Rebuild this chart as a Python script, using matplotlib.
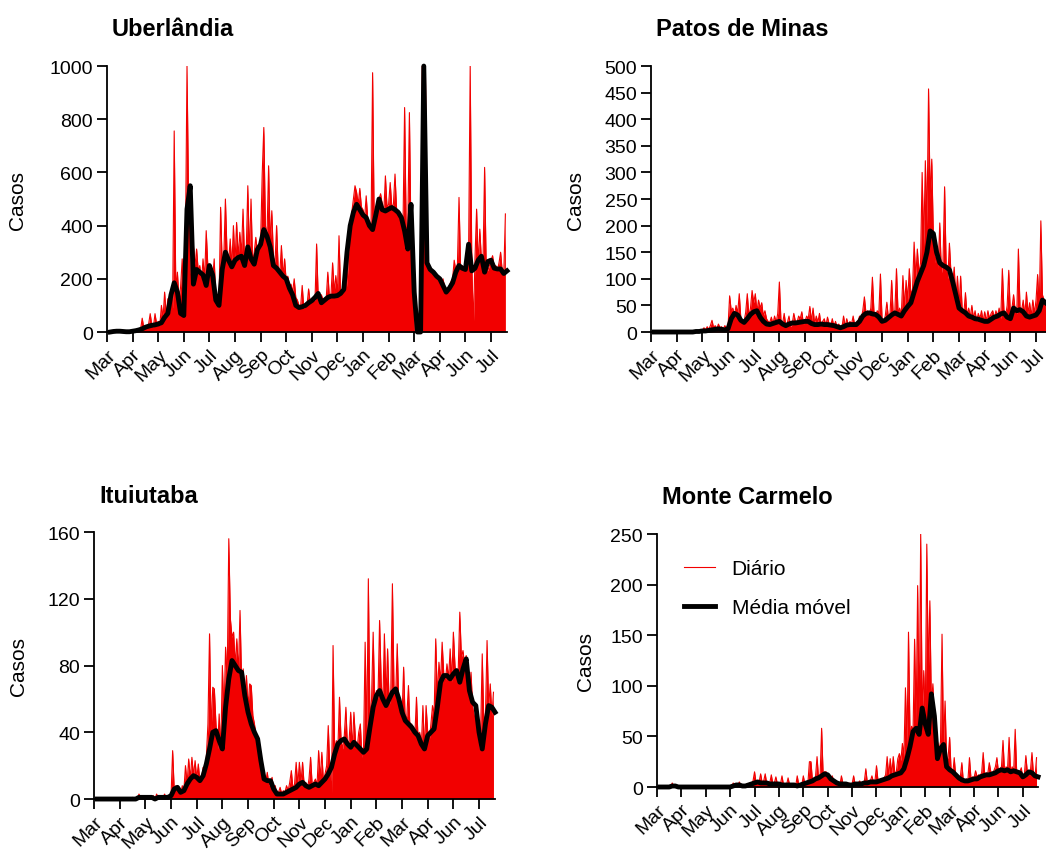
import numpy as np
import matplotlib
matplotlib.use("Agg")
import matplotlib.pyplot as plt

plt.rcParams['font.family'] = ['Liberation Sans', 'DejaVu Sans']

# days since 1 Mar 2020 (daily series read every 2 days, moving average every 4 days)
days_d = np.arange(0, 500, 2)
days_m = np.arange(0, 501, 4)
nan = np.nan

month_ticks = np.arange(0, 481, 32)
month_labels = ['Mar', 'Apr', 'May', 'Jun', 'Jul', 'Aug', 'Sep', 'Oct', 'Nov', 'Dec',
                'Jan', 'Feb', 'Mar', 'Apr', 'Jun', 'Jul']

uberlandia_daily = [
    0, 0, 0, 2, 4, 3, 2, 3, 1, 2, 0, 1, 3, 2, 1, 4,
    3, 6, 8, 4, 12, 10, 52, 15, 20, 12, 30, 69, 25, 18, 69, 30,
    40, 25, 100, 50, 150, 60, 125, 70, 140, 90, 756, 160, 225, 120, 170, 275,
    80, 310, 1000, 480, 220, 200, 325, 250, 312, 230, 250, 180, 275, 200, 381, 250,
    230, 250, 200, 275, 120, 90, 110, 469, 250, 280, 500, 300, 260, 350, 240, 400,
    260, 412, 280, 375, 290, 462, 260, 300, 550, 280, 500, 260, 300, 356, 290, 320,
    340, 594, 769, 400, 360, 625, 330, 456, 280, 260, 400, 230, 220, 325, 210, 275,
    190, 210, 170, 180, 150, 200, 130, 120, 100, 95, 175, 90, 95, 100, 162, 110,
    115, 120, 120, 331, 130, 110, 140, 120, 115, 125, 225, 130, 140, 260, 150, 212,
    140, 362, 145, 150, 160, 225, 170, 300, 380, 450, 500, 550, 525, 480, 540, 470,
    460, 430, 512, 420, 400, 380, 975, 400, 450, 487, 500, 520, 480, 450, 587, 470,
    480, 562, 470, 480, 594, 460, 450, 450, 430, 400, 844, 380, 400, 825, 350, 300,
    0, 0, 0, 0, 0, 1000, 600, 1000, 250, 240, 230, 220, 225, 210, 200, 210,
    195, 180, 200, 170, 150, 160, 175, 190, 200, 270, 230, 250, 506, 240, 250, 230,
    260, 280, 300, 1000, 250, 25, 280, 462, 250, 387, 270, 260, 619, 240, 230, 250,
    270, 287, 240, 250, 230, 260, 300, 230, 220, 444]
uberlandia_ma = [
    nan, 0, 2, 3, 3, 2, 1, 1,
    3, 5, 8, 12, 18, 22, 25, 27,
    30, 35, 55, 70, 140, 185, 150, 70,
    62, 462, 550, 180, 235, 225, 215, 175,
    250, 215, 120, 100, 235, 300, 270, 245,
    270, 280, 285, 250, 320, 275, 255, 310,
    330, 385, 360, 320, 250, 240, 225, 210,
    200, 165, 140, 100, 92, 95, 100, 110,
    118, 130, 145, 110, 120, 130, 135, 135,
    137, 145, 160, 300, 400, 450, 480, 460,
    440, 430, 400, 385, 440, 500, 460, 455,
    462, 468, 460, 450, 430, 380, 312, 480,
    150, 0, 0, 1000, 260, 235, 225, 210,
    200, 175, 150, 165, 185, 225, 250, 240,
    235, 330, 230, 240, 270, 285, 225, 265,
    270, 240, 237, 237, 220, 230]

patos_daily = [
    0, 0, 0, 0, 0, 0, 0, 0, 0, 0, 0, 0, 0, 0, 0, 0,
    0, 0, 0, 0, 0, 0, 1, 0, 0, 1, 0, 2, 1, 3, 2, 5,
    3, 8, 4, 10, 5, 12, 22, 8, 12, 6, 15, 8, 10, 5, 12, 8,
    10, 68, 40, 45, 30, 50, 35, 72, 25, 15, 20, 37, 72, 30, 45, 78,
    55, 72, 38, 60, 45, 55, 30, 40, 25, 20, 18, 28, 15, 30, 18, 35,
    94, 20, 15, 35, 12, 18, 30, 10, 15, 35, 20, 18, 30, 25, 38, 15,
    20, 30, 25, 48, 20, 45, 15, 30, 18, 35, 12, 20, 25, 12, 28, 15,
    12, 25, 10, 20, 8, 15, 10, 8, 30, 10, 25, 12, 20, 15, 30, 12,
    15, 20, 30, 25, 40, 66, 35, 40, 30, 45, 103, 35, 30, 40, 35, 109,
    25, 20, 30, 56, 25, 35, 97, 30, 40, 119, 35, 45, 30, 106, 45, 97,
    60, 119, 70, 80, 169, 100, 156, 110, 130, 300, 160, 322, 200, 457, 250, 325,
    180, 130, 150, 120, 205, 110, 130, 273, 120, 100, 167, 110, 90, 122, 60, 105,
    50, 105, 40, 35, 74, 30, 45, 28, 50, 25, 40, 20, 35, 25, 40, 20,
    38, 20, 40, 25, 35, 40, 25, 40, 30, 45, 25, 119, 40, 30, 50, 116,
    30, 45, 70, 40, 35, 156, 45, 40, 60, 30, 75, 35, 55, 30, 60, 35,
    60, 108, 45, 209, 70, 60, 50, 70, 45, 60]
patos_ma = [
    nan, 0, 0, 0, 0, 0, 0, 0,
    0, 0, 0, 0, 0, 0, 1, 1,
    2, 2, 3, 4, 5, 6, 5, 4,
    6, 25, 35, 32, 22, 18, 25, 33,
    38, 40, 28, 20, 15, 14, 16, 18,
    20, 15, 12, 15, 17, 17, 18, 19,
    20, 20, 16, 14, 14, 15, 14, 14,
    13, 12, 10, 8, 10, 13, 14, 14,
    14, 20, 30, 35, 36, 34, 33, 28,
    20, 22, 27, 32, 36, 33, 30, 40,
    48, 55, 75, 95, 110, 125, 150, 190,
    185, 150, 130, 125, 122, 117, 95, 70,
    45, 40, 36, 30, 28, 25, 24, 22,
    20, 20, 24, 28, 30, 34, 36, 28,
    25, 45, 40, 42, 38, 30, 28, 30,
    32, 40, 60, 55, 50, 50]

ituiutaba_daily = [
    0, 0, 0, 0, 0, 0, 0, 0, 0, 0, 0, 0, 0, 0, 0, 0,
    0, 0, 0, 0, 0, 0, 0, 0, 1, 0, 0, 0, 3, 1, 0, 1,
    1, 2, 1, 0, 1, 2, 0, 3, 1, 0, 2, 1, 3, 0, 2, 1,
    2, 29, 5, 8, 6, 4, 3, 8, 5, 20, 9, 24, 12, 25, 14, 23,
    12, 21, 10, 12, 19, 15, 25, 45, 99, 40, 67, 66, 45, 30, 51, 28,
    80, 50, 91, 70, 156, 108, 97, 100, 80, 96, 75, 113, 70, 78, 60, 74,
    55, 69, 68, 50, 45, 38, 29, 25, 27, 15, 12, 10, 16, 8, 10, 13,
    5, 8, 2, 4, 7, 3, 5, 4, 8, 5, 10, 17, 6, 9, 22, 8,
    22, 10, 22, 8, 10, 6, 12, 25, 8, 10, 12, 8, 29, 12, 28, 10,
    15, 20, 44, 18, 0, 92, 28, 35, 30, 61, 35, 30, 38, 55, 30, 35,
    52, 30, 52, 35, 30, 40, 45, 25, 30, 94, 35, 132, 45, 60, 100, 55,
    65, 60, 107, 70, 55, 99, 60, 90, 55, 65, 129, 65, 60, 93, 55, 60,
    50, 79, 45, 50, 68, 40, 45, 40, 38, 61, 35, 40, 30, 56, 28, 56,
    40, 35, 45, 56, 50, 96, 60, 82, 70, 94, 75, 70, 81, 72, 90, 70,
    100, 80, 70, 76, 112, 85, 89, 80, 86, 70, 60, 76, 55, 50, 47, 40,
    30, 40, 87, 45, 50, 95, 55, 69, 50, 64]
ituiutaba_ma = [
    nan, 0, 0, 0, 0, 0, 0, 0,
    0, 0, 0, 0, 0, 0, 1, 1,
    1, 1, 1, 0, 1, 1, 1, 1,
    2, 6, 7, 4, 5, 9, 12, 14,
    13, 11, 14, 21, 30, 40, 41, 35,
    30, 55, 72, 83, 80, 77, 76, 62,
    52, 45, 40, 36, 23, 12, 11, 11,
    6, 3, 3, 3, 4, 5, 6, 7,
    9, 10, 8, 7, 8, 9, 8, 10,
    12, 15, 19, 27, 33, 35, 36, 33,
    31, 34, 32, 30, 28, 30, 43, 55,
    62, 65, 60, 56, 60, 64, 66, 60,
    52, 47, 45, 43, 40, 38, 33, 30,
    38, 40, 42, 55, 70, 74, 74, 72,
    75, 77, 70, 78, 84, 65, 58, 56,
    40, 30, 45, 56, 55, 52]

monte_daily = [
    0, 0, 0, 0, 0, 0, 0, 0, 0, 0, 4, 0, 1, 0, 0, 0,
    0, 0, 0, 0, 0, 0, 0, 0, 0, 0, 0, 0, 0, 0, 0, 0,
    0, 0, 0, 0, 0, 0, 0, 0, 0, 0, 0, 0, 0, 0, 1, 0,
    1, 0, 4, 1, 2, 1, 5, 2, 1, 2, 1, 3, 2, 4, 3, 6,
    15, 4, 6, 5, 13, 4, 6, 13, 3, 5, 4, 12, 3, 4, 10, 3,
    4, 3, 11, 2, 3, 2, 9, 2, 1, 3, 2, 1, 11, 2, 3, 2,
    11, 3, 5, 4, 25, 25, 6, 8, 10, 30, 8, 10, 58, 12, 15, 15,
    10, 8, 6, 11, 5, 4, 3, 5, 2, 11, 3, 2, 3, 2, 4, 2,
    3, 11, 2, 3, 4, 6, 3, 4, 5, 18, 4, 5, 6, 11, 5, 6,
    21, 6, 5, 8, 7, 9, 12, 30, 10, 28, 12, 30, 14, 15, 28, 33,
    26, 43, 30, 98, 40, 153, 50, 60, 55, 146, 62, 199, 60, 250, 70, 115,
    65, 240, 110, 184, 80, 102, 55, 40, 45, 35, 45, 151, 40, 85, 25, 30,
    49, 15, 12, 29, 10, 8, 6, 10, 24, 5, 6, 8, 7, 29, 8, 10,
    9, 16, 10, 12, 11, 14, 34, 12, 14, 13, 24, 15, 14, 16, 20, 29,
    15, 18, 20, 46, 15, 20, 18, 49, 15, 20, 15, 57, 14, 12, 15, 19,
    8, 12, 31, 14, 15, 16, 34, 12, 10, 29]
monte_ma = [
    nan, 0, 0, 0, 0, 1, 1, 0,
    0, 0, 0, 0, 0, 0, 0, 0,
    0, 0, 0, 0, 0, 0, 0, 0,
    0, 1, 2, 2, 1, 1, 2, 3,
    4, 5, 4, 4, 4, 3, 3, 3,
    3, 2, 2, 2, 2, 2, 1, 2,
    3, 4, 5, 6, 8, 9, 11, 13,
    12, 8, 6, 4, 3, 3, 3, 2,
    2, 3, 3, 3, 4, 4, 5, 5,
    5, 6, 7, 8, 9, 11, 12, 13,
    14, 18, 28, 40, 55, 58, 52, 78,
    62, 52, 92, 70, 28, 38, 42, 20,
    17, 15, 12, 9, 7, 6, 6, 7,
    8, 8, 10, 11, 12, 12, 13, 14,
    16, 17, 16, 17, 15, 16, 15, 14,
    10, 12, 15, 14, 11, 10]

RED = '#f20000'

fig = plt.figure(figsize=(10.46, 8.53), dpi=100)

panels = [
    # title, daily, ma, ymax, ystep, axes rect, ylabel x, title pos
    ('Uberlândia', uberlandia_daily, uberlandia_ma, 1000, 200,
     [0.1023, 0.6096, 0.3824, 0.3118], -0.20, (0.107, 0.965)),
    ('Patos de Minas', patos_daily, patos_ma, 500, 50,
     [0.6224, 0.6096, 0.3834, 0.3118], -0.165, (0.627, 0.965)),
    ('Ituiutaba', ituiutaba_daily, ituiutaba_ma, 160, 40,
     [0.0899, 0.0621, 0.3834, 0.3130], -0.165, (0.095, 0.4174)),
    ('Monte Carmelo', monte_daily, monte_ma, 250, 50,
     [0.6281, 0.0762, 0.3643, 0.2966], -0.163, (0.633, 0.4162)),
]

for title, daily, ma, ymax, ystep, rect, ylx, tpos in panels:
    ax = fig.add_axes(rect)
    ax.fill_between(days_d, daily, color=RED, lw=0)
    ax.plot(days_d, daily, color=RED, lw=0.8, label='Diário')
    ax.plot(days_m, ma, color='black', lw=3.5, clip_on=False, label='Média móvel')
    ax.set_xlim(0, 500)
    ax.set_ylim(0, ymax)
    ax.set_yticks(np.arange(0, ymax + 1, ystep))
    ax.set_xticks(month_ticks)
    ax.set_xticklabels(month_labels, rotation=45, ha='right', va='top',
                       rotation_mode='anchor')
    for s in ['top', 'right']:
        ax.spines[s].set_visible(False)
    for s in ['left', 'bottom']:
        ax.spines[s].set_linewidth(1.3)
    ax.tick_params(direction='out', length=7, width=1.3, labelsize=14, pad=3)
    ax.set_ylabel('Casos', fontsize=15)
    ax.yaxis.set_label_coords(ylx, 0.5)
    fig.text(tpos[0], tpos[1], title, fontsize=17, fontweight='bold',
             ha='left', va='center')
    if title == 'Monte Carmelo':
        ax.legend(loc='upper left', bbox_to_anchor=(0.07, 0.90), frameon=False,
                  fontsize=15, handlelength=1.5, handletextpad=0.8,
                  labelspacing=0.95, borderpad=0, borderaxespad=0)

fig.savefig('out.png', dpi=100)
